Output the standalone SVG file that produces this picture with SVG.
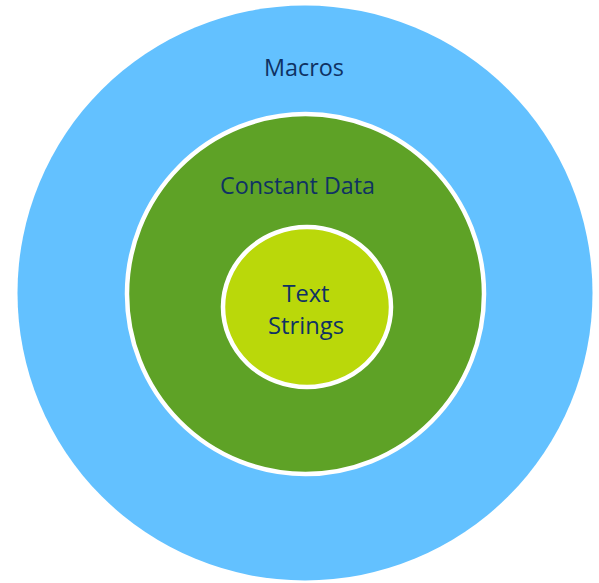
<svg xmlns="http://www.w3.org/2000/svg" width="599" height="583" viewBox="0 0 599 583">
<style>
.lbl{font-family:"Open Sans","Noto Sans",sans-serif;font-size:23.5px;fill:#0F3263;text-anchor:middle}
.ring{stroke:#FFFFFF;stroke-width:4.5}
</style>
<rect width="599" height="583" fill="#FFFFFF"/>
<g id="macros">
<circle cx="305" cy="293" r="287.5" fill="#63C1FF"/>
<text class="lbl" x="304" y="76" textLength="80" lengthAdjust="spacingAndGlyphs">Macros</text>
</g>
<g id="constant-data">
<ellipse class="ring" cx="305.5" cy="294" rx="178.5" ry="180" fill="#5EA226"/>
<text class="lbl" x="297.5" y="194" textLength="155" lengthAdjust="spacingAndGlyphs">Constant Data</text>
</g>
<g id="text-strings">
<ellipse class="ring" cx="307" cy="307" rx="84" ry="80" fill="#BAD80A"/>
<text class="lbl" x="306" y="302" textLength="47" lengthAdjust="spacingAndGlyphs">Text</text>
<text class="lbl" x="306" y="334" textLength="76" lengthAdjust="spacingAndGlyphs">Strings</text>
</g>
<g id="connectors"></g>
</svg>
